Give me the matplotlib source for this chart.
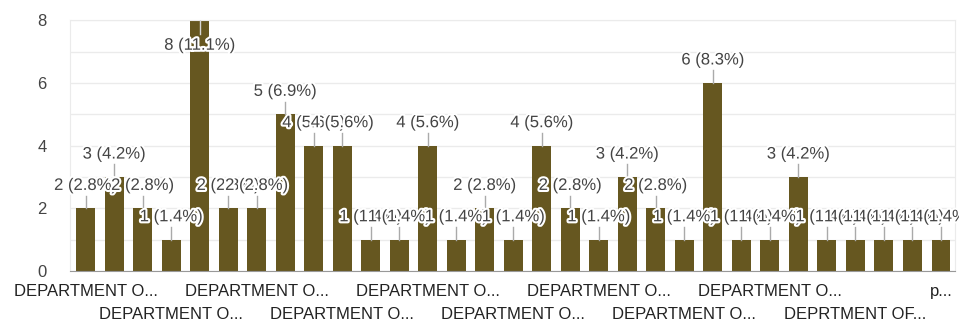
import matplotlib
matplotlib.use('Agg')
import matplotlib.pyplot as plt
import matplotlib.patheffects as pe
import numpy as np

plt.rcParams['font.family'] = ['Liberation Sans', 'DejaVu Sans']

# responses per department (72 in total)
counts = [2, 3, 2, 1, 8, 2, 2, 5, 4, 4, 1, 1, 4, 1, 2, 1,
          4, 2, 1, 3, 2, 1, 6, 1, 1, 3, 1, 1, 1, 1, 1]
total = sum(counts)

# category labels as shown under the axis (long names are clipped)
categories = ['DEPARTMENT O...'] * len(counts)
categories[27] = 'DEPRTMENT OF...'
categories[30] = 'p...'

bar_color = '#665720'

fig = plt.figure(figsize=(9.59, 3.25), dpi=100)
ax = fig.add_axes([0.073, 0.166, 0.923, 0.772])

x = np.arange(len(counts))
ax.bar(x, counts, width=0.66, color=bar_color, zorder=2)

ax.set_ylim(0, 8)
ax.set_xlim(-0.55, len(counts) - 0.5)

# gridlines at every integer, labels only on even values
ax.set_yticks([0, 2, 4, 6, 8])
ax.set_yticks([1, 3, 5, 7], minor=True)
ax.grid(axis='y', which='both', color='#ebebeb', linewidth=1, zorder=0)
ax.tick_params(axis='y', which='both', length=0, pad=17, labelsize=12, labelcolor='#444444')

for side in ['top', 'right', 'left']:
    ax.spines[side].set_color('#ebebeb')
ax.spines['bottom'].set_color('#999999')
ax.spines['bottom'].set_zorder(3)

# every third category label, alternating between two rows
shown = x[::3]
ax.set_xticks(shown)
ax.set_xticklabels([categories[i] for i in shown], fontsize=12, color='#222222')
ax.tick_params(axis='x', length=0)
for k, tick in enumerate(ax.xaxis.get_major_ticks()):
    tick.set_pad(9 if k % 2 == 0 else 26)

# value annotations with a short stem
halo = [pe.withStroke(linewidth=3, foreground='white')]
for xi, v in zip(x, counts):
    label = f'{v} ({v / total * 100:.1f}%)'
    if v >= 7.5:
        # no room above the bar: put it inside, below the top
        ax.plot([xi, xi], [v, v - 0.45], color='#d8d8d8', lw=1, zorder=3)
        ax.text(xi, v - 0.8, label, ha='center', va='center', fontsize=12,
                color='#444444', path_effects=halo, zorder=4)
    else:
        ax.plot([xi, xi], [v, v + 0.4], color='#aaaaaa', lw=1, zorder=3,
                clip_on=False)
        ax.text(xi, v + 0.73, label, ha='center', va='center', fontsize=12,
                color='#444444', path_effects=halo, zorder=4)

fig.savefig('out.png', dpi=100)
